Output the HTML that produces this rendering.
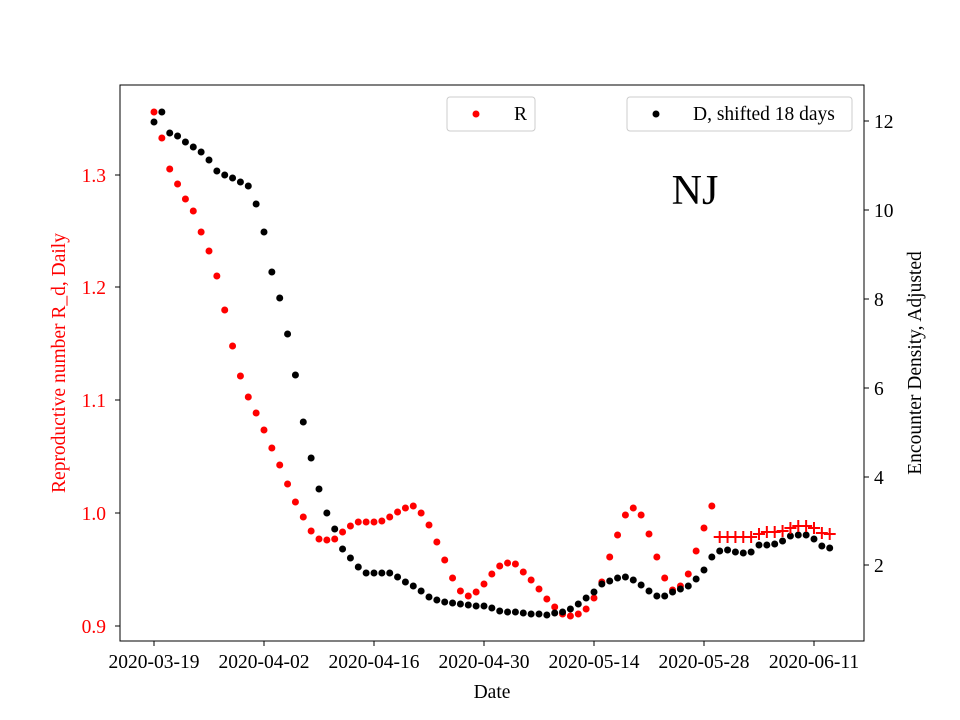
<!DOCTYPE html>
<html><head><meta charset="utf-8"><style>body{margin:0;background:#fff}svg{display:block;font-family:"Liberation Serif",serif}</style></head><body>
<svg id="s" width="960" height="720" xmlns="http://www.w3.org/2000/svg">
<rect x="120" y="85" width="744" height="556" fill="none" stroke="#000" stroke-width="1"/>
<g font-size="19.5" fill="#000" text-anchor="middle">
<line x1="154" y1="641" x2="154" y2="646" stroke="#000"/><text x="154" y="668">2020-03-19</text>
<line x1="264" y1="641" x2="264" y2="646" stroke="#000"/><text x="264" y="668">2020-04-02</text>
<line x1="374" y1="641" x2="374" y2="646" stroke="#000"/><text x="374" y="668">2020-04-16</text>
<line x1="484" y1="641" x2="484" y2="646" stroke="#000"/><text x="484" y="668">2020-04-30</text>
<line x1="594" y1="641" x2="594" y2="646" stroke="#000"/><text x="594" y="668">2020-05-14</text>
<line x1="704" y1="641" x2="704" y2="646" stroke="#000"/><text x="704" y="668">2020-05-28</text>
<line x1="814" y1="641" x2="814" y2="646" stroke="#000"/><text x="814" y="668">2020-06-11</text>
<text x="492" y="698">Date</text>
</g>
<g font-size="19.5" fill="#f00" text-anchor="end">
<line x1="115" y1="175" x2="120" y2="175" stroke="#000"/><text x="106" y="182">1.3</text>
<line x1="115" y1="287" x2="120" y2="287" stroke="#000"/><text x="106" y="294">1.2</text>
<line x1="115" y1="400" x2="120" y2="400" stroke="#000"/><text x="106" y="407">1.1</text>
<line x1="115" y1="513" x2="120" y2="513" stroke="#000"/><text x="106" y="520">1.0</text>
<line x1="115" y1="626" x2="120" y2="626" stroke="#000"/><text x="106" y="633">0.9</text>
<text transform="translate(65,363) rotate(-90)" text-anchor="middle">Reproductive number R_d, Daily</text>
</g>
<g font-size="19.5" fill="#000">
<line x1="864" y1="121" x2="869" y2="121" stroke="#000"/><text x="874" y="128">12</text>
<line x1="864" y1="210" x2="869" y2="210" stroke="#000"/><text x="874" y="217">10</text>
<line x1="864" y1="299" x2="869" y2="299" stroke="#000"/><text x="874" y="306">8</text>
<line x1="864" y1="388" x2="869" y2="388" stroke="#000"/><text x="874" y="395">6</text>
<line x1="864" y1="477" x2="869" y2="477" stroke="#000"/><text x="874" y="484">4</text>
<line x1="864" y1="565" x2="869" y2="565" stroke="#000"/><text x="874" y="572">2</text>
<text transform="translate(921,363) rotate(-90)" text-anchor="middle">Encounter Density, Adjusted</text>
</g>
<text x="695" y="204" font-size="42" text-anchor="middle">NJ</text>
<rect x="447" y="97" width="88" height="34" rx="3" fill="#fff" stroke="#ccc"/>
<circle cx="476" cy="114" r="3.5" fill="#f00"/><text x="514" y="120" font-size="19.5">R</text>
<rect x="627" y="97" width="225" height="34" rx="3" fill="#fff" stroke="#ccc"/>
<circle cx="656" cy="114" r="3.5" fill="#000"/><text x="693" y="120" font-size="19.5">D, shifted 18 days</text>
<g id="r" fill="#f00"></g><g id="b" fill="#000"></g><g id="p" stroke="#f00" stroke-width="2"></g>
</svg>
<script>
var R=[112,138,169,184,199,211,232,251,276,310,346,376,397,413,430,448,465,484,502,517,531,539,540,539,532,526,522,522,522,521,517,512,508,506,513,525,542,560,578,591,596,592,584,574,566,563,564,572,580,589,599,607,614,616,614,609,598,582,557,535,515,508,515,534,557,578,590,586,574,551,528,506];
var B=[122,112,133,136,142,147,152,160,171,175,178,182,186,204,232,272,298,334,375,422,458,489,513,529,549,558,567,573,573,573,573,577,582,586,591,597,600,602,603,604,605,606,606,608,611,612,612,613,614,614,615,613,612,609,604,598,592,584,581,578,577,580,585,591,596,596,592,589,586,579,570,557,551,550,552,553,552,545,545,544,541,536,535,535,539,546,548];
var P=[537,537,537,537,537,534,532,532,531,528,526,526,528,533,534];
var ns="http://www.w3.org/2000/svg";
function X(d){return 154+d*7.857;}
function c(g,x,y){var e=document.createElementNS(ns,"circle");e.setAttribute("cx",x);e.setAttribute("cy",y);e.setAttribute("r",3.5);document.getElementById(g).appendChild(e);}
R.forEach(function(y,i){c("r",X(i),y);});
B.forEach(function(y,i){c("b",X(i),y);});
var pg=document.getElementById("p");
P.forEach(function(y,i){var x=X(72+i);var l=document.createElementNS(ns,"path");l.setAttribute("d","M"+(x-6)+" "+y+"h12M"+x+" "+(y-6)+"v12");pg.appendChild(l);});
</script>
</body></html>
